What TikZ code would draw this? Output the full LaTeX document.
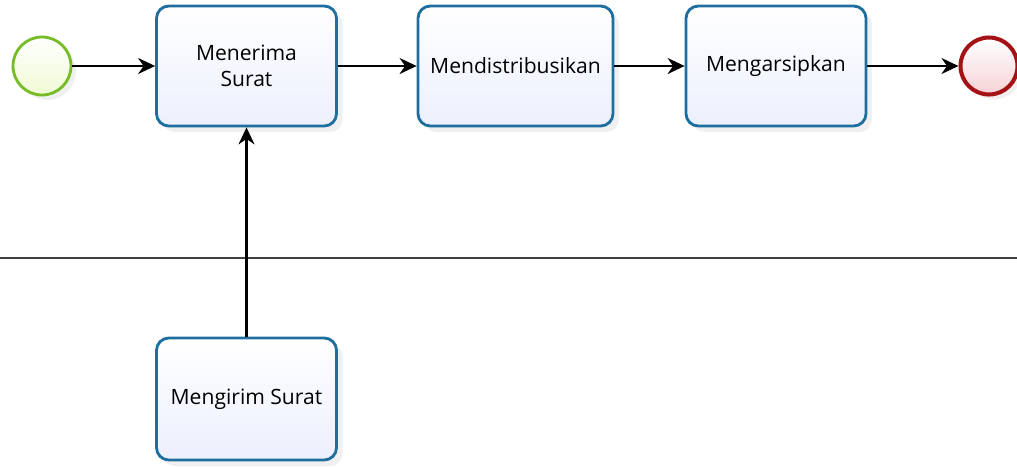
\documentclass[tikz,border=0pt]{standalone}
\usepackage{fontspec}
\setmainfont{Open Sans}
\usepackage{xcolor}
\usetikzlibrary{arrows.meta,positioning,shadows}

\definecolor{taskblue}{RGB}{30,110,160}
\definecolor{taskfill}{RGB}{236,240,253}
\definecolor{startgreen}{RGB}{118,188,38}
\definecolor{startfill}{RGB}{240,250,212}
\definecolor{endred}{RGB}{165,18,22}
\definecolor{endfill}{RGB}{246,210,214}

\begin{document}
\begin{tikzpicture}[
  task/.style={draw=taskblue, line width=1.6pt, rounded corners=7pt, align=center,
    minimum height=24mm, minimum width=36mm, top color=white, bottom color=taskfill,
    font=\fontsize{12}{15}\selectfont,
    drop shadow={shadow xshift=1.2mm, shadow yshift=-1.2mm, opacity=0.12}},
  startev/.style={circle, draw=startgreen, line width=1.6pt, minimum size=11.6mm,
    top color=white, bottom color=startfill,
    drop shadow={shadow xshift=1mm, shadow yshift=-1mm, opacity=0.12}},
  endev/.style={circle, draw=endred, line width=2.3pt, minimum size=11.4mm,
    top color=white, bottom color=endfill,
    drop shadow={shadow xshift=1mm, shadow yshift=-1mm, opacity=0.12}},
  flow/.style={-{Stealth[length=3.4mm, width=3.2mm, inset=1.1mm]}, line width=1.2pt}
]
\useasboundingbox (0,0) rectangle (20.34,-9.34);

\node[startev] (start) at (0.84,-1.32) {};
\node[task] (menerima) at (4.93,-1.32) {Menerima\\Surat};
\node[task, minimum width=39mm] (distribusi) at (10.31,-1.32) {Mendistribusikan};
\node[task] (arsip) at (15.52,-1.32) {Mengarsipkan};
\node[endev] (finish) at (19.78,-1.32) {};
\node[task, minimum height=24.4mm] (kirim) at (4.93,-7.98) {Mengirim Surat};

% lane separator
\coordinate (laneL) at (0,-5.16);
\coordinate (laneR) at (20.34,-5.16);
\draw[line width=0.6pt, black!75] (laneL) -- (laneR);

\draw[flow] (start) -- (menerima);
\draw[flow] (menerima) -- (distribusi);
\draw[flow] (distribusi) -- (arsip);
\draw[flow] (arsip) -- (finish);
\draw[flow] (kirim) -- (menerima);
\end{tikzpicture}
\end{document}
